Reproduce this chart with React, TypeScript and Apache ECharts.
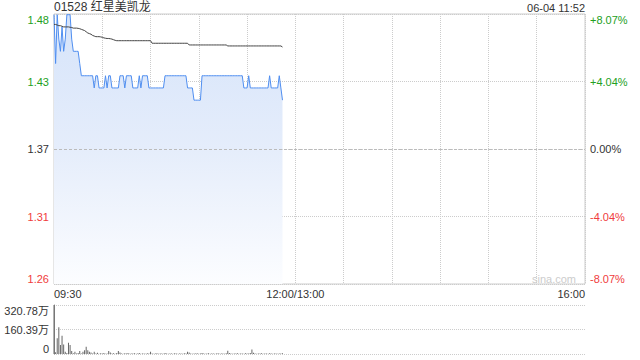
import React, { useEffect, useRef } from "react";
import * as echarts from "echarts";

const PREV_CLOSE = 1.37;
const TITLE = "01528 红星美凯龙";
const DATE_TEXT = "06-04 11:52";
const WATERMARK = "sina.com";

const priceTickLabels = ["1.26", "1.31", "1.37", "1.43", "1.48"];
const pctTickLabels = ["-8.07%", "-4.04%", "0.00%", "+4.04%", "+8.07%"];
const volTickLabels = ["0", "160.39万", "320.78万"];
const timeLabels: Record<number, string> = { 0: "09:30", 150: "12:00/13:00", 330: "16:00" };

// minute-by-minute price, 09:30 .. 11:52
const prices = [
  1.48, 1.44, 1.48, 1.46, 1.45, 1.47, 1.45, 1.46, 1.48, 1.48,
  1.48, 1.46, 1.45, 1.45, 1.45, 1.45, 1.44, 1.43, 1.43, 1.43,
  1.43, 1.43, 1.43, 1.43, 1.43, 1.42, 1.43, 1.43, 1.42, 1.42,
  1.42, 1.42, 1.43, 1.42, 1.43, 1.43, 1.42, 1.42, 1.42, 1.42,
  1.42, 1.43, 1.43, 1.43, 1.42, 1.43, 1.43, 1.43, 1.43, 1.42,
  1.42, 1.42, 1.42, 1.43, 1.42, 1.43, 1.43, 1.43, 1.43, 1.42,
  1.42, 1.42, 1.42, 1.42, 1.42, 1.42, 1.42, 1.42, 1.42, 1.43,
  1.43, 1.43, 1.43, 1.43, 1.43, 1.43, 1.43, 1.43, 1.43, 1.43,
  1.43, 1.43, 1.43, 1.42, 1.42, 1.42, 1.42, 1.41, 1.41, 1.41,
  1.41, 1.41, 1.43, 1.43, 1.43, 1.43, 1.43, 1.43, 1.43, 1.43,
  1.43, 1.43, 1.43, 1.43, 1.43, 1.43, 1.43, 1.43, 1.43, 1.43,
  1.43, 1.43, 1.43, 1.43, 1.43, 1.43, 1.43, 1.43, 1.42, 1.42,
  1.42, 1.43, 1.42, 1.42, 1.42, 1.42, 1.42, 1.42, 1.42, 1.42,
  1.42, 1.42, 1.42, 1.42, 1.43, 1.42, 1.42, 1.42, 1.42, 1.42,
  1.43, 1.42, 1.41,
];

// average price line
const avgPrices = [
  1.472, 1.472, 1.4715, 1.471, 1.471, 1.4705, 1.47, 1.47, 1.47, 1.47,
  1.4697, 1.4695, 1.469, 1.469, 1.469, 1.4688, 1.4685,
  1.468, 1.4675, 1.467, 1.466, 1.465, 1.4645, 1.464, 1.463,
  1.4625, 1.462, 1.462, 1.462, 1.4618, 1.4615,
  1.461, 1.4607, 1.4605, 1.4605, 1.4603, 1.46, 1.4595, 1.459,
  1.4587, 1.4587, 1.4587, 1.4587, 1.4587, 1.4587, 1.4587, 1.4587, 1.4587, 1.4587, 1.4587,
  1.4587, 1.4587, 1.4587, 1.4587, 1.4587, 1.4587, 1.4587, 1.4587, 1.4587, 1.4587, 1.4587,
  1.4566, 1.4566, 1.4566, 1.4566, 1.4566, 1.4566, 1.4566, 1.4566, 1.4566, 1.4566, 1.4566, 1.4566,
  1.4566, 1.4566, 1.4566, 1.4566, 1.4566, 1.4566, 1.4566, 1.4566, 1.4566, 1.4566, 1.4566,
  1.4552, 1.4552, 1.4552, 1.4552, 1.4552, 1.4552, 1.4552, 1.4552, 1.4552, 1.4552, 1.4552, 1.4552,
  1.4552, 1.4552, 1.4552, 1.4552, 1.4552, 1.4552, 1.4552, 1.4552, 1.4552, 1.4552, 1.4552, 1.4552,
  1.4544, 1.4544, 1.4544, 1.4544, 1.4544, 1.4544, 1.4544, 1.4544, 1.4544, 1.4544,
  1.4544, 1.4544, 1.4544, 1.4544, 1.4544, 1.4544, 1.4544, 1.4544, 1.4544, 1.4544,
  1.4544, 1.4544, 1.4544, 1.4544, 1.4544, 1.4544, 1.4544, 1.4544, 1.4544, 1.4544,
  1.4544, 1.4544, 1.4544, 1.4544,
  1.4535,
];

// volume per minute (万)
const volumes = [
  320.78, 12, 103, 175, 59, 120, 63, 15, 6, 74,
  59, 20, 5, 15, 4, 6, 20, 3, 15, 25,
  48, 25, 15, 10, 4, 15, 3, 8, 2, 5,
  3, 6, 2, 4, 20, 10, 3, 5, 2, 6,
  20, 10, 3, 2, 5, 3, 6, 2, 4, 3,
  5, 2, 3, 6, 2, 4, 3, 2, 5, 3,
  15, 4, 2, 3, 5, 2, 3, 4, 2, 6,
  3, 2, 4, 3, 2, 5, 3, 2, 4, 3,
  2, 5, 3, 15, 10, 3, 2, 4, 3, 5,
  2, 3, 6, 4, 2, 3, 5, 2, 3, 4,
  2, 3, 5, 2, 4, 3, 2, 5, 22, 6,
  3, 2, 4, 3, 5, 2, 3, 4, 2, 5,
  3, 4, 6, 30, 8, 3, 2, 4, 3, 5,
  2, 3, 4, 2, 5, 3, 2, 4, 3, 2,
  4, 3, 5,
];

const FONT = 'Arial, "Liberation Sans", "Noto Sans CJK SC", sans-serif';
const GREEN = "#22a022";
const RED = "#f03c3c";

export default function App() {
  const ref = useRef<HTMLDivElement>(null);
  useEffect(() => {
    if (!ref.current) return;
    const chart = echarts.init(ref.current, null, { renderer: "svg" });
    const toPct = (p: number) => (p / PREV_CLOSE - 1) * 100;
    const labelColor = (idx: number) => (idx > 2 ? GREEN : idx < 2 ? RED : "#333");
    const option: any = {
      animation: false,
      textStyle: { fontFamily: FONT },
      grid: [
        { left: 54, top: 14, width: 531, height: 270, show: true, borderColor: "#ccc", borderWidth: 1, backgroundColor: "transparent" },
        { left: 54, top: 305, width: 531, height: 49 },
      ],
      xAxis: [
        {
          type: "value", gridIndex: 0, min: 0, max: 330, interval: 30,
          axisLine: { show: false }, axisTick: { show: false },
          splitLine: { show: true, lineStyle: { type: "dotted", color: "#ccc" } },
          axisLabel: {
            showMinLabel: true, showMaxLabel: true,
            alignMinLabel: "left", alignMaxLabel: "right",
            color: "#333", fontSize: 11, margin: 4, fontFamily: FONT,
            formatter: (v: number) => timeLabels[Math.round(v)] ?? "",
          },
        },
        {
          type: "value", gridIndex: 1, min: 0, max: 330, interval: 30,
          axisLine: { show: false }, axisTick: { show: false },
          axisLabel: { show: false }, splitLine: { show: false },
        },
      ],
      yAxis: [
        {
          type: "value", gridIndex: 0, min: -8.07, max: 8.07, interval: 4.035,
          axisLine: { show: false }, axisTick: { show: false },
          splitLine: { show: true, lineStyle: { type: "dotted", color: "#ccc" } },
          axisLabel: {
            fontSize: 11, margin: 5, fontFamily: FONT,
            verticalAlignMinLabel: "bottom", verticalAlignMaxLabel: "top",
            formatter: (_v: number, i: number) => priceTickLabels[i] ?? "",
            color: (_v: any, i: number) => labelColor(i),
          },
        },
        {
          type: "value", gridIndex: 0, position: "right", min: -8.07, max: 8.07, interval: 4.035,
          axisLine: { show: false }, axisTick: { show: false }, splitLine: { show: false },
          axisLabel: {
            fontSize: 11, margin: 5, fontFamily: FONT,
            verticalAlignMinLabel: "bottom", verticalAlignMaxLabel: "top",
            formatter: (_v: number, i: number) => pctTickLabels[i] ?? "",
            color: (_v: any, i: number) => labelColor(i),
          },
        },
        {
          type: "value", gridIndex: 1, min: 0, max: 320.78, interval: 160.39,
          axisLine: { show: true, lineStyle: { color: "#888" } }, axisTick: { show: false },
          splitLine: { show: true, lineStyle: { type: "dotted", color: "#ccc" } },
          axisLabel: {
            fontSize: 11, margin: 5, color: "#333", fontFamily: FONT,
            verticalAlignMinLabel: "bottom", verticalAlignMaxLabel: "top",
            formatter: (_v: number, i: number) => volTickLabels[i] ?? "",
          },
        },
      ],
      series: [
        {
          type: "line", xAxisIndex: 0, yAxisIndex: 0,
          data: prices.map((p, i) => [i, toPct(p)]),
          showSymbol: false, symbol: "none",
          lineStyle: { color: "#4f8ef0", width: 1 },
          areaStyle: {
            origin: "start",
            opacity: 1,
            color: new echarts.graphic.LinearGradient(0, 0, 0, 1, [
              { offset: 0, color: "rgb(214,228,250)" },
              { offset: 0.5, color: "rgb(229,237,251)" },
              { offset: 1, color: "rgb(252,253,255)" },
            ]),
          },
          markLine: {
            silent: true, symbol: "none", label: { show: false },
            lineStyle: { type: [3, 2], color: "#bbb", width: 1 },
            data: [{ yAxis: 0 }],
          },
          z: 3,
        },
        {
          type: "line", xAxisIndex: 0, yAxisIndex: 0,
          data: avgPrices.map((p, i) => [i, toPct(p)]),
          showSymbol: false, symbol: "none",
          lineStyle: { color: "#444", width: 1 },
          z: 4,
        },
        {
          type: "bar", xAxisIndex: 1, yAxisIndex: 2,
          data: volumes.map((v, i) => [i, v]),
          barWidth: 1,
          itemStyle: { color: "#666" },
        },
      ],
      graphic: [
        { type: "text", left: 54, top: 1, style: { text: TITLE, fontSize: 12, fill: "#333", fontFamily: FONT } },
        { type: "text", right: 55, top: 2, style: { text: DATE_TEXT, fontSize: 11, fill: "#333", fontFamily: FONT } },
        { type: "text", left: 532, top: 273, style: { text: WATERMARK, fontSize: 11, fill: "#ccc", fontFamily: FONT } },
      ],
    };
    chart.setOption(option);
    return () => chart.dispose();
  }, []);
  return <div ref={ref} style={{ position: "fixed", left: 0, top: 0, width: 640, height: 360, background: "#fff" }} />;
}
